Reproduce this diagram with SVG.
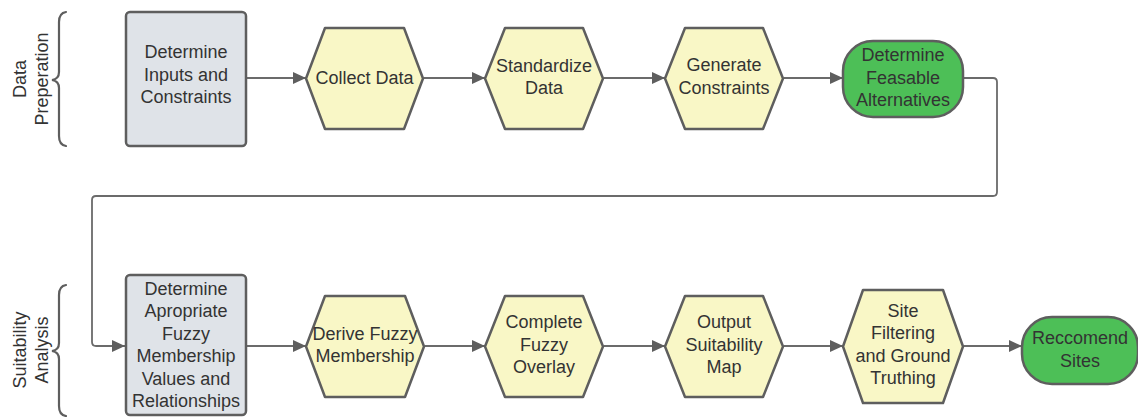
<svg xmlns="http://www.w3.org/2000/svg" width="1138" height="417" viewBox="0 0 1138 417">
  <style>
    .box { fill: #DFE3E8; stroke: #5E5E5E; stroke-width: 2.5; }
    .hex { fill: #F9F7C6; stroke: #5E5E5E; stroke-width: 2.5; stroke-linejoin: round; }
    .term { fill: #4DBF57; stroke: #5E5E5E; stroke-width: 2.5; }
    .brace { fill: none; stroke: #5E5E5E; stroke-width: 2.2; stroke-linecap: round; }
    .edge { fill: none; stroke: #6B6B6B; stroke-width: 1.8; }
    text { font-family: "Liberation Sans", Arial, sans-serif; font-size: 18px; fill: #333333; text-anchor: middle; }
  </style>
  <defs>
    <marker id="arrow" markerWidth="14" markerHeight="12" refX="13" refY="6" orient="auto" markerUnits="userSpaceOnUse">
      <path d="M0,0 L13,6 L0,12 Z" fill="#5E5E5E"/>
    </marker>
  </defs>

  <rect width="1138" height="417" fill="#FFFFFF"/>

  <!-- phase labels and braces -->
  <g id="phase-data">
    <path class="brace" d="M66,12 Q59,13 59,22 L59,72 Q59,79 52,80 Q59,81 59,88 L59,136 Q59,145 66,146"/>
    <text transform="translate(20,79) rotate(-90)" dy="6">Data</text>
    <text transform="translate(42,79) rotate(-90)" dy="6">Preperation</text>
  </g>
  <g id="phase-suitability">
    <path class="brace" d="M66,285 Q59,286 59,295 L59,343 Q59,350 52,351 Q59,352 59,359 L59,406 Q59,415 66,416"/>
    <text transform="translate(20,350) rotate(-90)" dy="6">Suitability</text>
    <text transform="translate(42,350) rotate(-90)" dy="6">Analysis</text>
  </g>

  <!-- connectors -->
  <g id="connectors">
    <line class="edge" x1="247" y1="78" x2="306" y2="78" marker-end="url(#arrow)"/>
    <line class="edge" x1="424" y1="78" x2="485" y2="78" marker-end="url(#arrow)"/>
    <line class="edge" x1="604" y1="78" x2="665" y2="78" marker-end="url(#arrow)"/>
    <line class="edge" x1="784" y1="78" x2="843" y2="78" marker-end="url(#arrow)"/>
    <path class="edge" d="M964,78 L993,78 Q997,78 997,82 L997,192 Q997,196 993,196 L96,196 Q92,196 92,200 L92,342 Q92,346 96,346 L125,346" marker-end="url(#arrow)"/>
    <line class="edge" x1="247" y1="346" x2="306" y2="346" marker-end="url(#arrow)"/>
    <line class="edge" x1="425" y1="346" x2="485" y2="346" marker-end="url(#arrow)"/>
    <line class="edge" x1="604" y1="346" x2="665" y2="346" marker-end="url(#arrow)"/>
    <line class="edge" x1="784" y1="346" x2="843" y2="346" marker-end="url(#arrow)"/>
    <line class="edge" x1="964" y1="346" x2="1022" y2="346" marker-end="url(#arrow)"/>
  </g>

  <!-- top row -->
  <g id="determine-inputs">
    <rect class="box" x="126" y="12" width="120" height="134" rx="4"/>
    <text x="186" y="58">Determine</text>
    <text x="186" y="80.5">Inputs and</text>
    <text x="186" y="103">Constraints</text>
  </g>
  <g id="collect-data">
    <path class="hex" d="M306,78.5 L325,28 L404,28 L423,78.5 L404,129 L325,129 Z"/>
    <text x="364.5" y="83.5">Collect Data</text>
  </g>
  <g id="standardize-data">
    <path class="hex" d="M485,78.5 L505,28 L583,28 L603,78.5 L583,129 L505,129 Z"/>
    <text x="544" y="71.5">Standardize</text>
    <text x="544" y="94">Data</text>
  </g>
  <g id="generate-constraints">
    <path class="hex" d="M665,78.5 L685,28 L763,28 L783,78.5 L763,129 L685,129 Z"/>
    <text x="724" y="71">Generate</text>
    <text x="724" y="93.5">Constraints</text>
  </g>
  <g id="feasible-alternatives">
    <rect class="term" x="843" y="41" width="120" height="76" rx="30"/>
    <text x="903" y="61">Determine</text>
    <text x="903" y="83.5">Feasable</text>
    <text x="903" y="106">Alternatives</text>
  </g>

  <!-- bottom row -->
  <g id="fuzzy-membership-values">
    <rect class="box" x="126" y="275" width="120" height="140" rx="4"/>
    <text x="186" y="294.5">Determine</text>
    <text x="186" y="317">Apropriate</text>
    <text x="186" y="339.5">Fuzzy</text>
    <text x="186" y="362">Membership</text>
    <text x="186" y="384.5">Values and</text>
    <text x="186" y="407">Relationships</text>
  </g>
  <g id="derive-fuzzy-membership">
    <path class="hex" d="M306,346.5 L325,296 L405,296 L424,346.5 L405,397 L325,397 Z"/>
    <text x="365" y="339.5">Derive Fuzzy</text>
    <text x="365" y="362">Membership</text>
  </g>
  <g id="fuzzy-overlay">
    <path class="hex" d="M485,346.5 L505,296 L583,296 L603,346.5 L583,397 L505,397 Z"/>
    <text x="544" y="328">Complete</text>
    <text x="544" y="350.5">Fuzzy</text>
    <text x="544" y="373">Overlay</text>
  </g>
  <g id="suitability-map">
    <path class="hex" d="M665,346.5 L685,296 L763,296 L783,346.5 L763,397 L685,397 Z"/>
    <text x="724" y="328">Output</text>
    <text x="724" y="350.5">Suitability</text>
    <text x="724" y="373">Map</text>
  </g>
  <g id="site-filtering">
    <path class="hex" d="M843,346.5 L863,290 L943,290 L963,346.5 L943,403 L863,403 Z"/>
    <text x="903" y="316.5">Site</text>
    <text x="903" y="339">Filtering</text>
    <text x="903" y="361.5">and Ground</text>
    <text x="903" y="384">Truthing</text>
  </g>
  <g id="recommend-sites">
    <rect class="term" x="1022" y="317" width="116" height="67" rx="30"/>
    <text x="1080" y="344">Reccomend</text>
    <text x="1080" y="366.5">Sites</text>
  </g>
</svg>
